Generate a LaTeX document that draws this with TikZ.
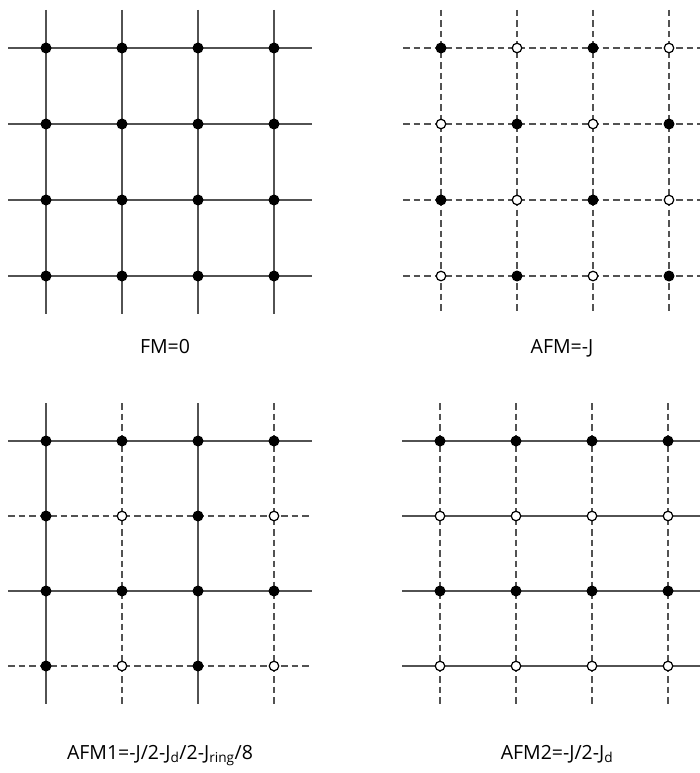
\documentclass[tikz,border=0pt]{standalone}
\usepackage{fontspec}
\setmainfont{Open Sans}
\usetikzlibrary{backgrounds}
\begin{document}
\begin{tikzpicture}[x=1pt, y=-1pt,
    spin0/.style={circle, fill=black, inner sep=0pt, minimum size=11pt},
    spin1/.style={circle, draw=black, fill=white, line width=1.2pt, inner sep=0pt, minimum size=9.5pt},
    bond/.style={draw=black!68, line width=2pt, shorten <=-38pt, shorten >=-38pt},
    weak/.style={bond, dash pattern=on 6.5pt off 4pt},
    caption/.style={font=\fontsize{19.5}{22}\selectfont, anchor=base}]
    \useasboundingbox (0,0) rectangle (699,773);

    % FM (top left)
    \foreach \i in {1,...,4}
      \foreach \j in {1,...,4}
        \node[spin0] (fm-\i-\j) at ({46+76*(\i-1)}, {48+76*(\j-1)}) {};
    \begin{scope}[on background layer]
      \foreach \n in {1,...,4} {
        \draw[bond] (fm-1-\n.center) -- (fm-4-\n.center);
        \draw[bond] (fm-\n-1.center) -- (fm-\n-4.center);
      }
    \end{scope}
    \node[caption] (fm-label) at (165,353) {FM=0};

    % AFM (top right)
    \foreach \i in {1,...,4}
      \foreach \j in {1,...,4} {
        \pgfmathtruncatemacro\k{mod(\i+\j,2)}
        \node[spin\k] (afm-\i-\j) at ({441+76*(\i-1)}, {48+76*(\j-1)}) {};
      }
    \begin{scope}[on background layer]
      \foreach \n in {1,...,4} {
        \draw[weak] (afm-1-\n.center) -- (afm-4-\n.center);
        \draw[weak] (afm-\n-1.center) -- (afm-\n-4.center);
      }
    \end{scope}
    \node[caption] (afm-label) at (562,353) {AFM=-J};

    % AFM1 (bottom left)
    \foreach \i in {1,...,4}
      \foreach \j in {1,...,4} {
        \pgfmathtruncatemacro\k{(1-mod(\i,2))*(1-mod(\j,2))}
        \node[spin\k] (afma-\i-\j) at ({46+76*(\i-1)}, {441+75*(\j-1)}) {};
      }
    \begin{scope}[on background layer]
      \foreach \n/\s in {1/bond, 2/weak, 3/bond, 4/weak} {
        \draw[\s] (afma-1-\n.center) -- (afma-4-\n.center);
        \draw[\s] (afma-\n-1.center) -- (afma-\n-4.center);
      }
    \end{scope}
    \node[caption] (afma-label) at (160,759)
      {AFM1=-J/2-J\textsubscript{d}/2-J\textsubscript{ring}/8};

    % AFM2 (bottom right)
    \foreach \i in {1,...,4}
      \foreach \j in {1,...,4} {
        \pgfmathtruncatemacro\k{1-mod(\j,2)}
        \node[spin\k] (afmb-\i-\j) at ({440+76*(\i-1)}, {441+75*(\j-1)}) {};
      }
    \begin{scope}[on background layer]
      \foreach \n in {1,...,4} {
        \draw[bond] (afmb-1-\n.center) -- (afmb-4-\n.center);
        \draw[weak] (afmb-\n-1.center) -- (afmb-\n-4.center);
      }
    \end{scope}
    \node[caption] (afmb-label) at (557,759) {AFM2=-J/2-J\textsubscript{d}};
\end{tikzpicture}
\end{document}
